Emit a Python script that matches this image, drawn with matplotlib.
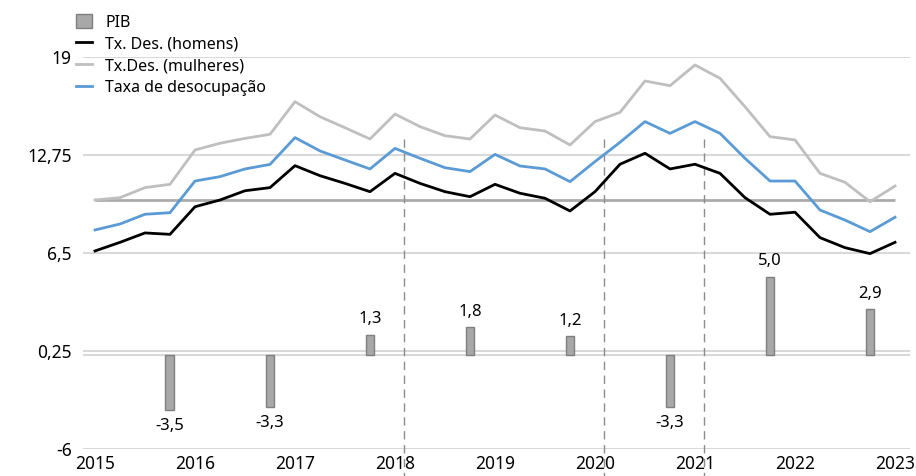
import numpy as np
import matplotlib.pyplot as plt

plt.rcParams['font.family'] = ['Noto Sans', 'DejaVu Sans']

# quarterly series, 2015Q1 .. 2023Q1
trimestres = 2015 + np.arange(33) * 0.25
homens = [6.63, 7.18, 7.78, 7.69, 9.45, 9.88, 10.47, 10.67,
          12.07, 11.43, 10.94, 10.41, 11.58, 10.94, 10.41, 10.09,
          10.88, 10.31, 9.99, 9.18, 10.41, 12.16, 12.86, 11.86,
          12.16, 11.58, 10.03, 8.97, 9.10, 7.48, 6.84, 6.46, 7.18]
mulheres = [9.88, 10.03, 10.67, 10.88, 13.07, 13.50, 13.81, 14.07,
            16.15, 15.19, 14.49, 13.77, 15.36, 14.56, 13.98, 13.77,
            15.30, 14.49, 14.28, 13.39, 14.88, 15.47, 17.47, 17.17,
            18.49, 17.64, 15.83, 13.92, 13.71, 11.58, 11.01, 9.77, 10.77]
taxa = [7.97, 8.35, 8.97, 9.07, 11.09, 11.37, 11.86, 12.15,
        13.86, 13.01, 12.43, 11.86, 13.17, 12.54, 11.94, 11.69,
        12.79, 12.05, 11.86, 11.05, 12.33, 13.56, 14.88, 14.13,
        14.88, 14.13, 12.54, 11.09, 11.09, 9.24, 8.60, 7.86, 8.78]
referencia = 9.85

# PIB annual growth
anos_pib = [2015, 2016, 2017, 2018, 2019, 2020, 2021, 2022]
pib = [-3.5, -3.3, 1.3, 1.8, 1.2, -3.3, 5.0, 2.9]

anos = list(range(2015, 2024))
yticks = [-6, 0.25, 6.5, 12.75, 19]
ytick_labels = ['-6', '0,25', '6,5', '12,75', '19']
marcos = [2018, 2020, 2021]

fig = plt.figure(figsize=(9.16, 4.76), dpi=100)
ax = fig.add_axes([83 / 916, 27 / 476, 827 / 916, 392 / 476])
ax.set_xlim(2014.88, 2023.15)
ax.set_ylim(-6, 19)

for y in yticks:
    ax.axhline(y, color='#d9d9d9', lw=1.5, zorder=0)
ax.axhline(0, color='#d9d9d9', lw=1.5, zorder=0)
ax.hlines(referencia, trimestres[0], trimestres[-1], color='#ababab', lw=2, zorder=1)

for m in marcos:
    ax.plot([m + 0.09, m + 0.09], [13.8, -7.8], color='#8c8c8c', lw=1,
            dashes=(6, 4), clip_on=False, zorder=1)

xb = [a + 0.75 for a in anos_pib]
barras = ax.bar(xb, pib, width=0.09, color='#a8a8a8', edgecolor='#7f7f7f', lw=1,
                zorder=2, label='PIB')
for x, v in zip(xb, pib):
    txt = f'{v:.1f}'.replace('.', ',')
    if v >= 0:
        ax.text(x, v + 0.45, txt, ha='center', va='bottom', fontsize=12)
    else:
        ax.text(x, v - 0.5, txt, ha='center', va='top', fontsize=12)

l1, = ax.plot(trimestres, homens, color='black', lw=2, label='Tx. Des. (homens)', zorder=3)
l2, = ax.plot(trimestres, mulheres, color='#bfbfbf', lw=2, label='Tx.Des. (mulheres)', zorder=3)
l3, = ax.plot(trimestres, taxa, color='#5b9bd5', lw=2, label='Taxa de desocupação', zorder=3)

ax.set_xticks(anos)
ax.set_xticklabels([str(a) for a in anos], fontsize=12.5)
ax.set_yticks(yticks)
ax.set_yticklabels(ytick_labels, fontsize=12.5)
ax.tick_params(length=0, pad=8)
ax.tick_params(axis='x', pad=4)
for s in ax.spines.values():
    s.set_visible(False)

fig.legend(handles=[barras, l1, l2, l3], loc='upper left',
           bbox_to_anchor=(70 / 916, 1 - 8 / 476), frameon=False,
           fontsize=11.5, handlelength=1.0, handleheight=0.95, handletextpad=0.8,
           labelspacing=0.33, borderaxespad=0)

fig.savefig('out.png', dpi=100)
